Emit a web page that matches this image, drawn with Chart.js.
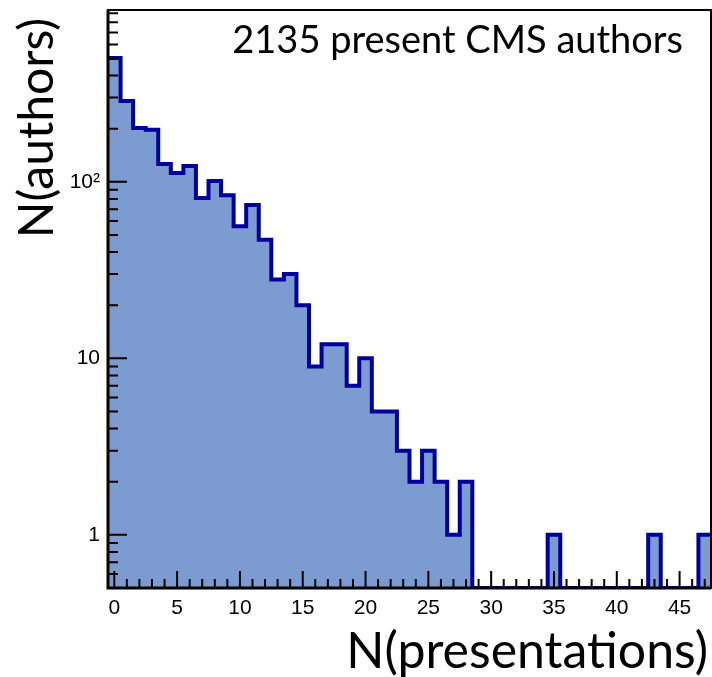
<!DOCTYPE html>
<html>
<head>
<meta charset="utf-8">
<script src="https://cdn.jsdelivr.net/npm/chart.js@4.4.1/dist/chart.umd.min.js"></script>
<style>
  html, body { margin: 0; padding: 0; background: #fff; }
  #wrap { width: 712px; height: 677px; }
</style>
</head>
<body>
<div id="wrap"><canvas id="histo"></canvas></div>
<script>
// bin centres (number of presentations) and counts per bin
const nPresentations = [0, 1, 2, 3, 4, 5, 6, 7, 8, 9, 10, 11, 12, 13, 14, 15, 16, 17, 18, 19,
    20, 21, 22, 23, 24, 25, 26, 27, 28, 29, 30, 31, 32, 33, 34, 35, 36, 37, 38, 39,
    40, 41, 42, 43, 44, 45, 46, 47];
const nAuthors = [502, 287, 202, 197, 126, 112, 123, 81, 101, 84, 56, 74, 47, 28, 30, 20, 9, 12, 12, 7,
    10, 5, 5, 3, 2, 3, 2, 1, 2, 0, 0, 0, 0, 0, 0, 1, 0, 0, 0, 0,
    0, 0, 0, 1, 0, 0, 0, 1];

const xTickValues = [0, 5, 10, 15, 20, 25, 30, 35, 40, 45];
const yTickValues = [1, 10, 100];
const yTickLabels = ['1', '10', '10\u00b2'];
const xTitle = 'N(presentations)';
const yTitle = 'N(authors)';
const annotationText = '2135 present CMS authors';

const Y_MIN = 0.5;
const Y_MAX = 940;

document.addEventListener('DOMContentLoaded', function () {
    if (typeof Chart === 'undefined') {
        console.error('Chart.js is not loaded.');
        return;
    }

    // histogram outline: one point per left bin edge, plus the last right edge
    const points = nPresentations.map((n, i) => ({ x: n - 0.5, y: nAuthors[i] > 0 ? nAuthors[i] : Y_MIN }));
    const last = nPresentations.length - 1;
    points.push({ x: nPresentations[last] + 0.5, y: nAuthors[last] > 0 ? nAuthors[last] : Y_MIN });

    // minor tick positions for the log axis
    const yMinor = [];
    for (let d = 0.1; d <= 100; d *= 10) {
        for (let k = 2; k <= 9; k++) {
            const v = +(k * d).toPrecision(3);
            if (v > Y_MIN && v < Y_MAX) yMinor.push(v);
        }
    }

    const rootFrame = {
        id: 'rootFrame',
        afterDatasetsDraw(chart) {
            const { ctx, chartArea: a, scales: { x, y } } = chart;
            ctx.save();
            ctx.strokeStyle = '#000';
            ctx.lineWidth = 2;
            ctx.beginPath();
            nPresentations.forEach(n => {
                const px = x.getPixelForValue(n);
                const len = xTickValues.includes(n) ? 17 : 9;
                ctx.moveTo(px, a.bottom);
                ctx.lineTo(px, a.bottom - len);
            });
            yMinor.forEach(v => {
                const py = y.getPixelForValue(v);
                ctx.moveTo(a.left, py);
                ctx.lineTo(a.left + 10, py);
            });
            yTickValues.forEach(v => {
                const py = y.getPixelForValue(v);
                ctx.moveTo(a.left, py);
                ctx.lineTo(a.left + 19, py);
            });
            ctx.stroke();

            // frame
            ctx.lineWidth = 2;
            ctx.strokeRect(a.left, a.top, a.right - a.left, a.bottom - a.top);
            ctx.lineWidth = 3;
            ctx.beginPath();
            ctx.moveTo(a.left, a.top);
            ctx.lineTo(a.left, a.bottom);
            ctx.lineTo(a.right, a.bottom);
            ctx.stroke();

            // label in the top right corner
            ctx.fillStyle = '#000';
            ctx.textBaseline = 'alphabetic';
            ctx.textAlign = 'right';
            ctx.font = '38px Lato';
            ctx.fillText(annotationText, a.right - 28, a.top + 43);

            // axis titles, right-aligned to the ends of the axes
            ctx.font = '50px Lato';
            ctx.fillText(xTitle, a.right - 3, 668);
            ctx.font = '48px Lato';
            ctx.translate(53, a.top + 8);
            ctx.rotate(-Math.PI / 2);
            ctx.fillText(yTitle, 0, 0);
            ctx.restore();
        }
    };

    new Chart(document.getElementById('histo'), {
        type: 'line',
        data: {
            datasets: [{
                data: points,
                stepped: 'before',
                fill: 'start',
                backgroundColor: '#7b9bd1',
                borderColor: '#00009a',
                borderWidth: 4,
                pointRadius: 0,
                tension: 0
            }]
        },
        options: {
            responsive: true,
            maintainAspectRatio: false,
            animation: false,
            layout: { padding: { top: 10, right: 1, left: 0, bottom: 0 } },
            plugins: {
                legend: { display: false },
                tooltip: { enabled: false }
            },
            scales: {
                x: {
                    type: 'linear',
                    min: nPresentations[0] - 0.5,
                    max: nPresentations[last] + 0.5,
                    grid: { display: false, drawTicks: false },
                    border: { display: false },
                    afterBuildTicks: s => { s.ticks = xTickValues.map(v => ({ value: v })); },
                    afterFit: s => { s.height = 89; s.paddingLeft = 0; s.paddingRight = 0; },
                    ticks: {
                        color: '#000',
                        padding: 8,
                        maxRotation: 0,
                        font: { family: '"Liberation Sans", Arial', size: 21 }
                    }
                },
                y: {
                    type: 'logarithmic',
                    min: Y_MIN,
                    max: Y_MAX,
                    grid: { display: false, drawTicks: false },
                    border: { display: false },
                    afterBuildTicks: s => { s.ticks = yTickValues.map(v => ({ value: v })); },
                    afterFit: s => { s.width = 108; s.paddingTop = 0; s.paddingBottom = 0; },
                    ticks: {
                        color: '#000',
                        padding: 8,
                        font: { family: '"Liberation Sans", Arial', size: 21 },
                        callback: v => yTickLabels[yTickValues.indexOf(v)]
                    }
                }
            }
        },
        plugins: [rootFrame]
    });
});
</script>
</body>
</html>
